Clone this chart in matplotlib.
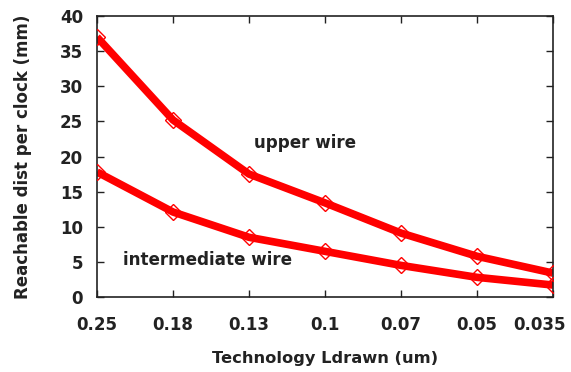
import matplotlib
matplotlib.use("Agg")
import matplotlib.pyplot as plt
from matplotlib.transforms import ScaledTranslation
import numpy as np

categories = ["0.25", "0.18", "0.13", "0.1", "0.07", "0.05", "0.035"]
upper_wire = [37.0, 25.2, 17.5, 13.4, 9.1, 5.8, 3.4]
intermediate_wire = [17.8, 12.1, 8.5, 6.5, 4.5, 2.8, 1.7]
y_ticks = [0, 5, 10, 15, 20, 25, 30, 35, 40]

plt.rcParams['font.family'] = ['DejaVu Sans']
plt.rcParams['font.weight'] = 'bold'

fig = plt.figure(figsize=(5.71, 3.72), dpi=100)
ax = fig.add_axes([97/571, 1 - 297/372, (553-97)/571, (297-16)/372])

x = np.arange(len(categories))
for vals in (upper_wire, intermediate_wire):
    ax.plot(x, vals, color='#ff0000', lw=5.5, solid_capstyle='butt', zorder=2)
    ax.plot(x, vals, ls='none', marker='D', ms=8.5, mfc='none', mec='#ff0000', mew=1, zorder=3)

ax.set_xlim(0, len(categories) - 1)
ax.set_ylim(0, 40)
ax.set_xticks(x)
ax.set_xticklabels(categories)
ax.set_yticks(y_ticks)
ax.tick_params(direction='in', top=True, right=True, labelsize=12, length=5, width=1,
               colors='#222222')
ax.tick_params(axis='x', pad=14)
ax.tick_params(axis='y', pad=10)
for s in ax.spines.values():
    s.set_linewidth(1.2)
    s.set_color('#222222')

ax.set_xlabel("Technology Ldrawn (um)", fontsize=11.7, fontweight='bold', labelpad=12, color='#222222')
ax.set_ylabel("Reachable dist per clock (mm)", fontsize=12, fontweight='bold', labelpad=20, color='#222222')

ax.text(2.74, 21.9, "upper wire", fontsize=12.1, fontweight='bold', ha='center', va='center', color='#222222')
ax.text(1.45, 5.3, "intermediate wire", fontsize=12.1, fontweight='bold', ha='center', va='center', color='#222222')

fig.canvas.draw()
lab = ax.get_xticklabels()[-1]
lab.set_transform(lab.get_transform() + ScaledTranslation(-13/100, 0, fig.dpi_scale_trans))

fig.savefig("out.png", dpi=100)
